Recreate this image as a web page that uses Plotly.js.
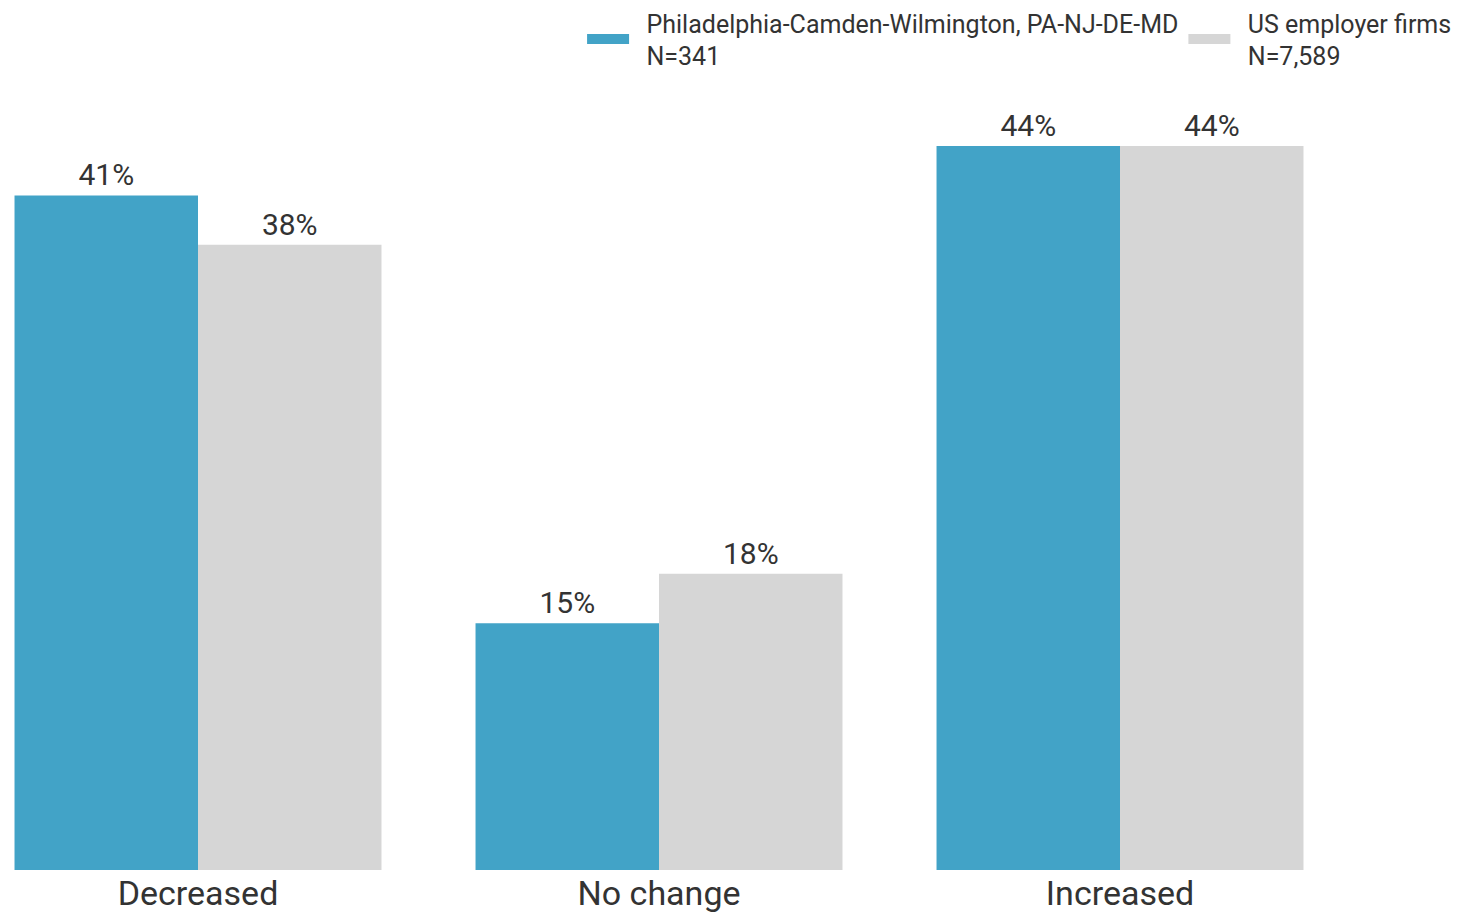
<!DOCTYPE html>
<html>
<head>
<meta charset="utf-8">
<script src="https://cdn.plot.ly/plotly-3.0.1.min.js"></script>
<style>html,body{margin:0;padding:0;background:#fff;}#chart{width:1460px;height:912px;}</style>
</head>
<body>
<div id="chart"></div>
<script>
const categories = ["Decreased", "No change", "Increased"];
const seriesNames = ["Philadelphia-Camden-Wilmington, PA-NJ-DE-MD<br>N=341", "US employer firms<br>N=7,589"];
const phillyValues = [41, 15, 44];
const usValues = [38, 18, 44];
const colors = ["#42a3c7", "#d6d6d6"];

const pad = "\u00a0\u00a0";
const legendLabel = s => s.split("<br>").map(p => pad + p).join("<br>");

const mk = (name, vals, color) => ({
  type: "bar",
  name: name,
  x: categories,
  y: vals,
  text: vals.map(v => v + "%"),
  textposition: "outside",
  cliponaxis: false,
  textfont: {family: "Roboto, sans-serif", size: 30, color: "#333"},
  marker: {color: color, line: {width: 0}},
  showlegend: false,
  hoverinfo: "skip"
});

// legend-only entries (no data) to get wide rectangular swatches
const lg = (name, color) => ({
  type: "scatter", mode: "lines", name: legendLabel(name),
  x: [null], y: [null],
  line: {color: color, width: 13},
  hoverinfo: "skip"
});

const data = [
  mk(seriesNames[0], phillyValues, colors[0]),
  mk(seriesNames[1], usValues, colors[1]),
  lg(seriesNames[0], colors[0]),
  lg(seriesNames[1], colors[1])
];

const layout = {
  width: 1460, height: 912,
  margin: {l: 0, r: 0, t: 100, b: 42},
  paper_bgcolor: "#fff", plot_bgcolor: "#fff",
  font: {family: "Roboto, sans-serif", color: "#333"},
  barmode: "group",
  bargap: 0.204,
  bargroupgap: 0,
  showlegend: true,
  legend: {
    orientation: "h", x: 0.998, xanchor: "right", y: 1.13, yanchor: "top",
    font: {family: "Roboto, sans-serif", size: 25, color: "#333"},
    itemwidth: 42,
    traceorder: "normal"
  },
  xaxis: {
    range: [-0.4295, 2.7375],
    showgrid: false, zeroline: false, showline: false, ticks: "",
    tickfont: {family: "Roboto, sans-serif", size: 34, color: "#333"},
    fixedrange: true
  },
  yaxis: {
    range: [0, 46.8],
    showgrid: false, zeroline: false, showline: false, showticklabels: false, ticks: "",
    fixedrange: true
  }
};

Plotly.newPlot("chart", data, layout, {displayModeBar: false, staticPlot: true});
</script>
</body>
</html>
